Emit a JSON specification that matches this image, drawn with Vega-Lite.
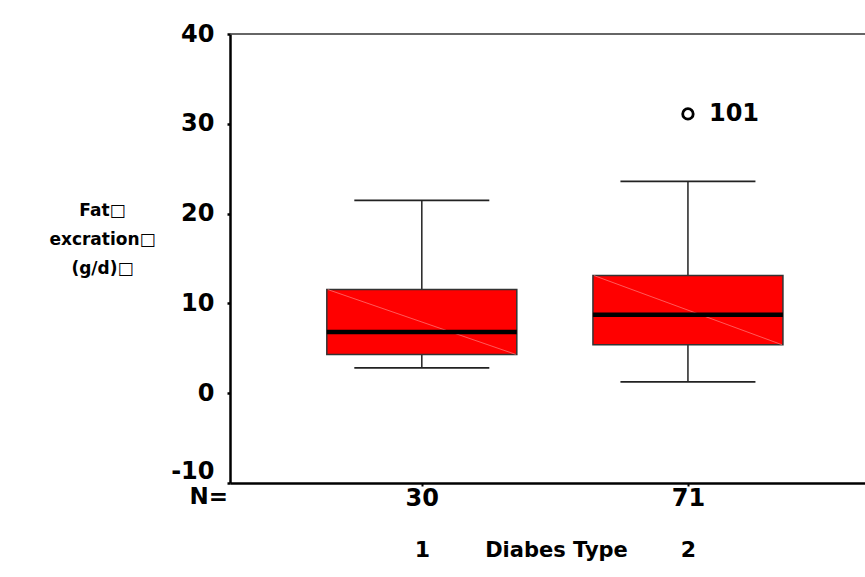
{
  "$schema": "https://vega.github.io/schema/vega-lite/v6.json",
  "width": 635,
  "height": 449,
  "autosize": "none",
  "padding": {"left": 230, "top": 34, "right": 0, "bottom": 94},
  "background": "white",
  "config": {
    "view": {"stroke": null},
    "font": "DejaVu Sans",
    "axis": {"grid": false}
  },
  "datasets": {
    "boxes": [
      {"type": "1", "n": 30, "lower": 2.83, "q1": 4.32, "median": 6.82, "q3": 11.54, "upper": 21.47},
      {"type": "2", "n": 71, "lower": 1.27, "q1": 5.4, "median": 8.75, "q3": 13.1, "upper": 23.59}
    ],
    "outliers": [
      {"type": "2", "value": 31.1, "case": "101"}
    ],
    "frame": [
      {"top": 40}
    ]
  },
  "resolve": {"scale": {"x": "independent"}, "axis": {"x": "independent"}},
  "layer": [
    {
      "data": {"name": "boxes"},
      "layer": [
        {
          "mark": {"type": "rule", "color": "#222", "strokeWidth": 1.5, "opacity": 1},
          "encoding": {
            "x": {"field": "type", "type": "nominal"},
            "y": {"field": "lower", "type": "quantitative"},
            "y2": {"field": "upper"}
          }
        },
        {
          "mark": {"type": "tick", "color": "#222", "size": 135, "thickness": 1.8, "opacity": 1},
          "encoding": {
            "x": {"field": "type", "type": "nominal"},
            "y": {"field": "lower", "type": "quantitative"}
          }
        },
        {
          "mark": {"type": "tick", "color": "#222", "size": 135, "thickness": 1.8, "opacity": 1},
          "encoding": {
            "x": {"field": "type", "type": "nominal"},
            "y": {"field": "upper", "type": "quantitative"}
          }
        },
        {
          "mark": {"type": "bar", "size": 190, "color": "#ff0000", "stroke": "#333", "strokeWidth": 1.5, "opacity": 1},
          "encoding": {
            "x": {"field": "type", "type": "nominal"},
            "y": {"field": "q3", "type": "quantitative"},
            "y2": {"field": "q1"}
          }
        },
        {
          "mark": {"type": "rule", "color": "#ff7070", "strokeWidth": 0.8, "xOffset": -94, "x2Offset": 94},
          "encoding": {
            "x": {"field": "type", "type": "nominal"},
            "x2": {"field": "type"},
            "y": {"field": "q3", "type": "quantitative"},
            "y2": {"field": "q1"}
          }
        },
        {
          "mark": {"type": "tick", "color": "#000", "size": 190, "thickness": 4.5, "opacity": 1},
          "encoding": {
            "x": {
              "field": "type", "type": "nominal",
              "scale": {"type": "point", "padding": 0.693, "align": 0.52},
              "axis": {
                "orient": "bottom",
                "labelExpr": "datum.value == '1' ? '30' : '71'",
                "labelAngle": 0,
                "labelAlign": "center",
                "labelBaseline": "top",
                "labelFont": "DejaVu Sans",
                "labelFontSize": 24,
                "labelFontWeight": "bold",
                "labelColor": "#000",
                "labelPadding": 0,
                "domainColor": "#000",
                "domainWidth": 2.5,
                "tickColor": "#000",
                "tickWidth": 2,
                "tickSize": 3,
                "title": "N=",
                "titleFont": "DejaVu Sans",
                "titleFontSize": 23,
                "titleFontWeight": "bold",
                "titleColor": "#000",
                "titleAnchor": "start",
                "titleAlign": "left",
                "titleBaseline": "top",
                "titleX": -41,
                "titleY": 2
              }
            },
            "y": {
              "field": "median", "type": "quantitative",
              "scale": {"domain": [-10, 40], "nice": false, "zero": false},
              "axis": {
                "values": [-10, 0, 10, 20, 30, 40],
                "labelExpr": "replace(datum.label, '−', '-')",
                "labelBaseline": {"condition": {"test": "datum.value == -10", "value": "bottom"}, "value": "middle"},
                "labelFont": "DejaVu Sans",
                "labelFontSize": 24,
                "labelFontWeight": "bold",
                "labelColor": "#000",
                "labelPadding": 13,
                "domainColor": "#000",
                "domainWidth": 2.5,
                "tickColor": "#000",
                "tickWidth": 2.5,
                "tickSize": 3,
                "title": ["Fat□", "excration□", "(g/d)□"],
                "titleFont": "DejaVu Sans",
                "titleFontSize": 17,
                "titleFontWeight": "bold",
                "titleColor": "#000",
                "titleAngle": 0,
                "titleAlign": "center",
                "titleBaseline": "top",
                "titleLineHeight": 29,
                "titleX": -128,
                "titleY": 168
              }
            }
          }
        }
      ]
    },
    {
      "data": {"name": "boxes"},
      "mark": {"type": "tick", "opacity": 0},
      "encoding": {
        "x": {
          "field": "type", "type": "nominal",
          "scale": {"type": "point", "padding": 0.693, "align": 0.52},
          "axis": {
            "orient": "bottom",
            "offset": 52,
            "domain": false,
            "ticks": false,
            "labelAngle": 0,
            "labelAlign": "center",
            "labelBaseline": "top",
            "labelFont": "DejaVu Sans",
            "labelFontSize": 22,
            "labelFontWeight": "bold",
            "labelColor": "#000",
            "labelPadding": 4,
            "title": "Diabes Type",
            "titleFont": "DejaVu Sans",
            "titleFontSize": 21,
            "titleFontWeight": "bold",
            "titleColor": "#000",
            "titleAnchor": "start",
            "titleAlign": "center",
            "titleBaseline": "top",
            "titleX": 326,
            "titleY": 4
          }
        },
        "y": {"field": "median", "type": "quantitative"}
      }
    },
    {
      "data": {"name": "outliers"},
      "layer": [
        {
          "mark": {"type": "point", "shape": "circle", "filled": false, "color": "#000", "size": 110, "strokeWidth": 2.8, "opacity": 1},
          "encoding": {
            "x": {"field": "type", "type": "nominal", "scale": {"type": "point", "domain": ["1", "2"], "padding": 0.693, "align": 0.52}, "axis": null},
            "y": {"field": "value", "type": "quantitative"}
          }
        },
        {
          "mark": {"type": "text", "align": "left", "baseline": "middle", "dx": 21, "font": "DejaVu Sans", "fontSize": 24, "fontWeight": "bold", "color": "#000"},
          "encoding": {
            "x": {"field": "type", "type": "nominal", "scale": {"type": "point", "domain": ["1", "2"], "padding": 0.693, "align": 0.52}, "axis": null},
            "y": {"field": "value", "type": "quantitative"},
            "text": {"field": "case"}
          }
        }
      ]
    },
    {
      "data": {"name": "frame"},
      "mark": {"type": "rule", "color": "#333", "strokeWidth": 1.5},
      "encoding": {"y": {"field": "top", "type": "quantitative"}}
    }
  ]
}
